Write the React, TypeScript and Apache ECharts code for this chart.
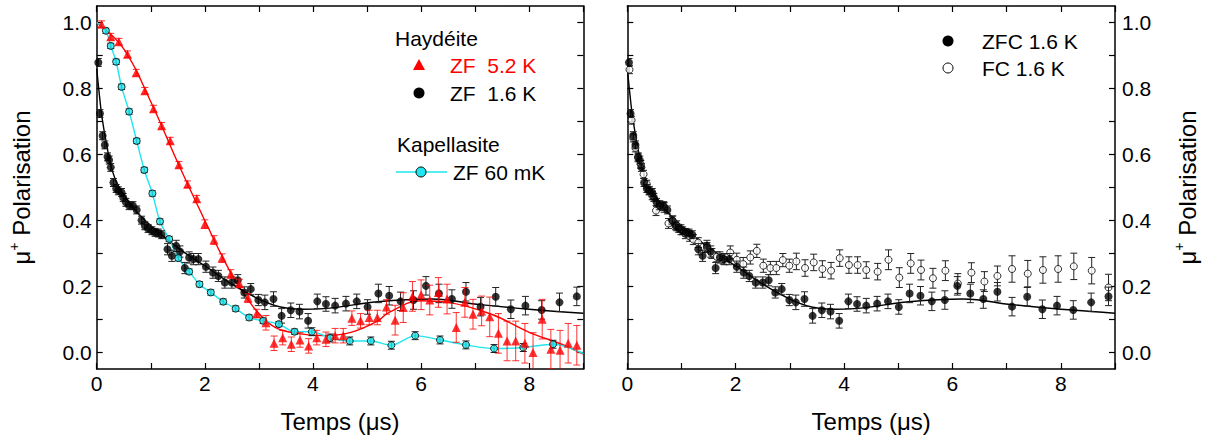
import React, { useEffect, useRef } from "react";
import * as echarts from "echarts";

// ---- Haydéite ZF 5.2 K (red triangles)
const redT = [0.09,0.26,0.41,0.57,0.73,0.89,1.05,1.20,1.36,1.52,1.68,1.85,2.00,2.17,2.32,2.48,2.64,2.80,2.96,3.13,3.28,3.44,3.60,3.76,3.92,4.07,4.24,4.41,4.56,4.72,4.88,5.04,5.19,5.36,5.52,5.67,5.84,6.00,6.16,6.32,6.48,6.65,6.81,6.96,7.12,7.27,7.43,7.59,7.75,7.92,8.07,8.24,8.40,8.57,8.72,8.88];
const redP = [0.995,0.957,0.942,0.904,0.848,0.793,0.739,0.687,0.642,0.569,0.510,0.466,0.389,0.341,0.286,0.238,0.209,0.165,0.118,0.090,0.028,0.045,0.025,0.038,0.020,0.045,0.040,0.051,0.051,0.104,0.096,0.106,0.106,0.138,0.098,0.136,0.170,0.175,0.159,0.182,0.162,0.076,0.152,0.116,0.126,0.108,0.058,0.035,0.035,0.028,0.000,0.101,0.010,0.007,0.028,0.022];
const redE = [0.01,0.01,0.01,0.01,0.01,0.01,0.01,0.01,0.01,0.01,0.01,0.01,0.013,0.013,0.013,0.013,0.013,0.013,0.013,0.022,0.022,0.022,0.022,0.022,0.022,0.022,0.022,0.022,0.022,0.022,0.022,0.022,0.022,0.022,0.045,0.045,0.045,0.045,0.045,0.045,0.045,0.045,0.045,0.045,0.045,0.06,0.06,0.06,0.06,0.06,0.06,0.06,0.06,0.06,0.06,0.06];
const redFitT = [0,0.5,1.0,1.5,2.0,2.5,2.8,3.0,3.3,3.7,4.2,4.7,5.2,5.4,6.0,6.5,7.3,8.0,8.6,9.0];
const redFitP = [1.0,0.92,0.76,0.575,0.40,0.235,0.16,0.118,0.076,0.058,0.051,0.061,0.096,0.121,0.157,0.152,0.116,0.061,0.025,-0.005];

// ---- Haydéite ZF 1.6 K / ZFC 1.6 K (black circles)
const blkT = [0.03,0.06,0.11,0.15,0.20,0.23,0.26,0.31,0.36,0.40,0.46,0.49,0.54,0.60,0.67,0.74,0.83,0.89,0.95,1.02,1.08,1.14,1.20,1.31,1.39,1.47,1.54,1.63,1.71,1.79,1.88,2.02,2.15,2.25,2.37,2.50,2.61,2.73,2.85,2.99,3.11,3.27,3.42,3.59,3.75,3.91,4.08,4.24,4.41,4.61,4.81,5.01,5.21,5.41,5.62,5.86,6.09,6.33,6.57,6.83,7.10,7.38,7.66,7.93,8.23,8.56,8.88];
const blkP = [0.879,0.724,0.657,0.629,0.593,0.583,0.561,0.515,0.497,0.490,0.485,0.470,0.455,0.445,0.445,0.432,0.401,0.384,0.376,0.369,0.364,0.362,0.357,0.313,0.293,0.323,0.306,0.256,0.288,0.283,0.283,0.260,0.242,0.232,0.212,0.212,0.219,0.182,0.192,0.159,0.152,0.162,0.111,0.128,0.124,0.096,0.155,0.147,0.142,0.148,0.155,0.138,0.179,0.172,0.155,0.159,0.202,0.179,0.162,0.184,0.139,0.169,0.131,0.142,0.129,0.152,0.170];
const blkE = [0.012,0.012,0.012,0.012,0.012,0.012,0.012,0.012,0.012,0.012,0.012,0.012,0.012,0.012,0.012,0.012,0.012,0.012,0.012,0.012,0.012,0.012,0.012,0.017,0.017,0.017,0.017,0.017,0.017,0.017,0.017,0.017,0.017,0.017,0.017,0.017,0.017,0.017,0.017,0.017,0.022,0.022,0.022,0.022,0.022,0.022,0.022,0.022,0.022,0.022,0.022,0.022,0.028,0.028,0.028,0.028,0.028,0.028,0.028,0.028,0.028,0.028,0.028,0.028,0.028,0.028,0.028];
const blkFitT = [0,0.05,0.1,0.2,0.3,0.4,0.6,0.8,1.0,1.4,1.8,2.0,2.5,3.0,3.4,3.8,4.2,5.2,6.2,7.1,8.0,9.0];
const blkFitP = [0.86,0.78,0.71,0.615,0.545,0.505,0.455,0.415,0.385,0.33,0.283,0.263,0.207,0.162,0.138,0.131,0.133,0.154,0.162,0.145,0.131,0.119];

// ---- Kapellasite ZF 60 mK (cyan circles)
const cyaT = [0.17,0.26,0.36,0.46,0.60,0.74,0.88,1.03,1.17,1.34,1.51,1.71,1.90,2.11,2.34,2.57,2.82,3.08,3.37,3.66,3.98,4.32,4.68,5.07,5.45,5.89,6.35,6.83,7.35,7.89,8.44];
const cyaP = [0.975,0.929,0.881,0.805,0.730,0.641,0.553,0.482,0.397,0.344,0.286,0.245,0.207,0.182,0.154,0.133,0.106,0.096,0.086,0.063,0.063,0.044,0.035,0.035,0.022,0.051,0.038,0.023,0.012,0.015,0.025];
const cyaE = [0.008,0.008,0.008,0.008,0.008,0.008,0.008,0.008,0.008,0.008,0.008,0.008,0.008,0.008,0.008,0.008,0.008,0.008,0.008,0.008,0.012,0.012,0.012,0.012,0.012,0.012,0.012,0.012,0.012,0.012,0.012];
const cyaLineStart = [0, 1.0];
const cyaLineEnd = [9, -0.003];

// ---- FC 1.6 K (open circles)
const fcT = [0.04,0.08,0.11,0.15,0.20,0.25,0.30,0.36,0.41,0.46,0.53,0.60,0.68,0.76,0.84,0.91,0.99,1.07,1.15,1.22,1.31,1.47,1.56,1.65,1.77,1.90,2.02,2.14,2.27,2.39,2.51,2.64,2.75,2.87,2.99,3.12,3.28,3.44,3.60,3.76,3.92,4.09,4.25,4.41,4.62,4.82,5.02,5.23,5.42,5.64,5.87,6.10,6.35,6.59,6.83,7.10,7.39,7.67,7.95,8.24,8.57,8.88];
const fcP = [0.857,0.704,0.650,0.620,0.590,0.570,0.540,0.510,0.490,0.475,0.430,0.445,0.440,0.391,0.399,0.384,0.372,0.360,0.352,0.342,0.333,0.318,0.300,0.290,0.283,0.303,0.281,0.268,0.288,0.308,0.263,0.256,0.256,0.280,0.263,0.276,0.256,0.273,0.253,0.248,0.286,0.265,0.265,0.250,0.245,0.281,0.227,0.270,0.250,0.225,0.248,0.209,0.242,0.215,0.232,0.253,0.239,0.250,0.253,0.261,0.248,0.197];
const fcE = [0.012,0.012,0.012,0.012,0.012,0.012,0.012,0.012,0.012,0.012,0.015,0.015,0.015,0.015,0.015,0.015,0.015,0.015,0.015,0.015,0.015,0.015,0.015,0.015,0.015,0.02,0.02,0.02,0.02,0.02,0.02,0.02,0.02,0.02,0.02,0.025,0.025,0.025,0.025,0.025,0.025,0.025,0.025,0.025,0.025,0.03,0.03,0.03,0.03,0.03,0.03,0.03,0.03,0.03,0.03,0.04,0.04,0.04,0.04,0.04,0.04,0.04];

// ---- axis ticks
const xTickLabels = [0, 2, 4, 6, 8];
const yLabelValues = [0, 0.2, 0.4, 0.6, 0.8, 1.0];
const yTickValues = [0, 0.1, 0.2, 0.3, 0.4, 0.5, 0.6, 0.7, 0.8, 0.9, 1.0];

const FONT = "'Liberation Sans', Arial, sans-serif";
const RED = "#ff0000";
const CYAN = "#1fe6ee";

const zip3 = (a: number[], b: number[], c: number[]) => a.map((v, i) => [v, b[i], c[i]]);
const zip2 = (a: number[], b: number[]) => a.map((v, i) => [v, b[i]]);

const errRender = (color: string, cap: number, lw: number) => (_p: any, api: any) => {
  const x = api.value(0), y = api.value(1), e = api.value(2);
  const hi = api.coord([x, y + e]);
  const lo = api.coord([x, y - e]);
  const style = { stroke: color, lineWidth: lw, fill: null };
  return {
    type: "group",
    children: [
      { type: "line", shape: { x1: hi[0], y1: hi[1], x2: lo[0], y2: lo[1] }, style },
      { type: "line", shape: { x1: hi[0] - cap, y1: hi[1], x2: hi[0] + cap, y2: hi[1] }, style },
      { type: "line", shape: { x1: lo[0] - cap, y1: lo[1], x2: lo[0] + cap, y2: lo[1] }, style },
    ],
  };
};

const axisLineStyle = { color: "#000", width: 1.5 };

function xAx(grid: number, pos: "bottom" | "top", labels: boolean, name?: string) {
  return {
    type: "value", gridIndex: grid, position: pos, min: 0, max: 9, interval: 1,
    axisLine: { show: true, onZero: false, lineStyle: axisLineStyle },
    axisTick: { show: true, inside: true, length: 6, lineStyle: { color: "#000", width: 1.2 } },
    splitLine: { show: false },
    axisLabel: {
      show: labels, margin: 4, color: "#000", fontSize: 21, fontFamily: FONT,
      formatter: (v: number) => (xTickLabels.indexOf(v) >= 0 ? String(v) : ""),
    },
    name: name, nameLocation: "middle", nameGap: 40,
    nameTextStyle: { color: "#000", fontSize: 24, fontFamily: FONT },
  };
}

const yName = "{a|μ}{b|+}{a| Polarisation}";
function yAx(grid: number, pos: "left" | "right", labels: boolean, withName: boolean) {
  return {
    type: "value", gridIndex: grid, position: pos, min: -0.05, max: 1.05,
    axisLine: { show: true, onZero: false, lineStyle: axisLineStyle },
    axisTick: { show: true, inside: true, length: 6, customValues: yTickValues, lineStyle: { color: "#000", width: 1.2 } },
    splitLine: { show: false },
    axisLabel: {
      show: labels, margin: pos === "left" ? 5 : 7, color: "#000", fontSize: 21, fontFamily: FONT,
      customValues: yLabelValues,
      formatter: (v: number) => v.toFixed(1),
    },
    name: withName ? yName : "", nameLocation: "middle", nameRotate: 90, nameGap: pos === "left" ? 60 : 57,
    nameTextStyle: {
      color: "#000", fontFamily: FONT, fontSize: 24,
      rich: {
        a: { fontSize: 24, fontFamily: FONT, color: "#000", lineHeight: 30 },
        b: { fontSize: 14, fontFamily: FONT, color: "#000", verticalAlign: "top", lineHeight: 30 },
      },
    },
  };
}

function buildOption() {
  const txt = (x: number, y: number, t: string, color = "#000") => ({
    type: "text", x, y,
    style: { text: t, fill: color, font: `21px ${FONT}`, textVerticalAlign: "middle", verticalAlign: "middle" },
  });
  return {
    animation: false,
    backgroundColor: "#fff",
    grid: [
      { left: 96.7, top: 6, width: 486.6, height: 363 },
      { left: 627.3, top: 6, width: 487.7, height: 363 },
    ],
    xAxis: [
      xAx(0, "bottom", true, "Temps (μs)"),
      xAx(0, "top", false),
      xAx(1, "bottom", true, "Temps (μs)"),
      xAx(1, "top", false),
    ],
    yAxis: [
      yAx(0, "left", true, true),
      yAx(0, "right", false, false),
      yAx(1, "left", false, false),
      yAx(1, "right", true, true),
    ],
    series: [
      // left panel
      { type: "line", xAxisIndex: 0, yAxisIndex: 0, data: zip2(redFitT, redFitP), smooth: 0.4, showSymbol: false, lineStyle: { color: RED, width: 1.4 }, z: 2, silent: true },
      { type: "line", xAxisIndex: 0, yAxisIndex: 0, data: zip2(blkFitT, blkFitP), smooth: 0.4, showSymbol: false, lineStyle: { color: "#000", width: 1.4 }, z: 2, silent: true },
      { type: "line", xAxisIndex: 0, yAxisIndex: 0, data: [cyaLineStart, ...zip2(cyaT, cyaP), cyaLineEnd], smooth: 0.3, showSymbol: false, lineStyle: { color: CYAN, width: 1.4 }, z: 2, silent: true },
      { type: "custom", xAxisIndex: 0, yAxisIndex: 0, data: zip3(blkT, blkP, blkE), renderItem: errRender("#222", 3.5, 1), encode: { x: 0, y: 1 }, clip: true, z: 3, silent: true },
      { type: "scatter", xAxisIndex: 0, yAxisIndex: 0, data: zip2(blkT, blkP), symbol: "circle", symbolSize: 8, itemStyle: { color: "#000" }, z: 4, silent: true },
      { type: "custom", xAxisIndex: 0, yAxisIndex: 0, data: zip3(cyaT, cyaP, cyaE), renderItem: errRender("#222", 3.5, 1), encode: { x: 0, y: 1 }, clip: true, z: 5, silent: true },
      { type: "scatter", xAxisIndex: 0, yAxisIndex: 0, data: zip2(cyaT, cyaP), symbol: "circle", symbolSize: 7, itemStyle: { color: CYAN, borderColor: "#000", borderWidth: 1 }, z: 6, silent: true },
      { type: "custom", xAxisIndex: 0, yAxisIndex: 0, data: zip3(redT, redP, redE), renderItem: errRender("rgba(255,0,0,0.8)", 3.5, 1), encode: { x: 0, y: 1 }, clip: true, z: 7, silent: true },
      { type: "scatter", xAxisIndex: 0, yAxisIndex: 0, data: zip2(redT, redP), symbol: "triangle", symbolSize: 9, itemStyle: { color: RED }, z: 8, silent: true },
      // right panel
      { type: "line", xAxisIndex: 2, yAxisIndex: 2, data: zip2(blkFitT, blkFitP), smooth: 0.4, showSymbol: false, lineStyle: { color: "#000", width: 1.4 }, z: 2, silent: true },
      { type: "custom", xAxisIndex: 2, yAxisIndex: 2, data: zip3(fcT, fcP, fcE), renderItem: errRender("#222", 3.5, 1), encode: { x: 0, y: 1 }, clip: true, z: 3, silent: true },
      { type: "scatter", xAxisIndex: 2, yAxisIndex: 2, data: zip2(fcT, fcP), symbol: "circle", symbolSize: 7, itemStyle: { color: "#fff", borderColor: "#000", borderWidth: 1 }, z: 4, silent: true },
      { type: "custom", xAxisIndex: 2, yAxisIndex: 2, data: zip3(blkT, blkP, blkE), renderItem: errRender("#222", 3.5, 1), encode: { x: 0, y: 1 }, clip: true, z: 5, silent: true },
      { type: "scatter", xAxisIndex: 2, yAxisIndex: 2, data: zip2(blkT, blkP), symbol: "circle", symbolSize: 8, itemStyle: { color: "#000" }, z: 6, silent: true },
    ],
    graphic: [
      txt(395, 38, "Haydéite"),
      { type: "polygon", shape: { points: [[419, 59], [413, 70], [425, 70]] }, style: { fill: RED } },
      txt(450, 65, "ZF  5.2 K", RED),
      { type: "circle", shape: { cx: 419, cy: 93, r: 5.5 }, style: { fill: "#000" } },
      txt(450, 93, "ZF  1.6 K"),
      txt(397, 144, "Kapellasite"),
      { type: "line", shape: { x1: 396, y1: 172, x2: 447, y2: 172 }, style: { stroke: CYAN, lineWidth: 1.5 } },
      { type: "circle", shape: { cx: 421, cy: 172, r: 5 }, style: { fill: CYAN, stroke: "#000", lineWidth: 1 } },
      txt(453, 172, "ZF 60 mK"),
      { type: "circle", shape: { cx: 948, cy: 41, r: 5.5 }, style: { fill: "#000" } },
      txt(982, 41, "ZFC 1.6 K"),
      { type: "circle", shape: { cx: 948, cy: 68, r: 5 }, style: { fill: "#fff", stroke: "#000", lineWidth: 1 } },
      txt(982, 68, "FC 1.6 K"),
    ],
  };
}

export default function App() {
  const ref = useRef<HTMLDivElement>(null);
  useEffect(() => {
    const chart = echarts.init(ref.current as HTMLDivElement, null, { renderer: "svg" });
    chart.setOption(buildOption() as any);
    return () => chart.dispose();
  }, []);
  return <div ref={ref} style={{ position: "absolute", left: 0, top: 0, width: 1205, height: 443, background: "#fff" }} />;
}
